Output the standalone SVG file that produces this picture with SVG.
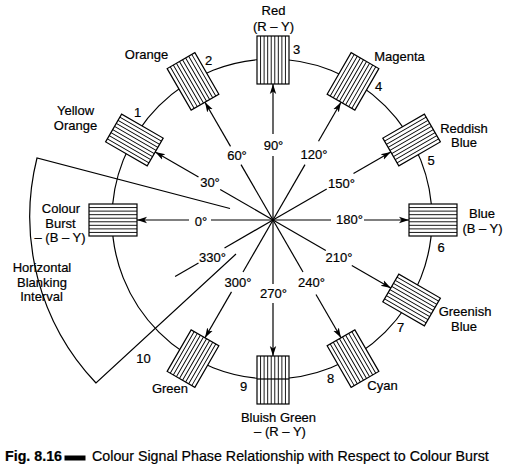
<svg xmlns="http://www.w3.org/2000/svg" xmlns:xlink="http://www.w3.org/1999/xlink" width="512" height="470" viewBox="0 0 512 470">
<style>
text{font-family:"Liberation Sans",Arial,sans-serif;font-size:13px;fill:#000;text-anchor:middle;stroke:#000;stroke-width:0.2}
.ln{stroke:#000;stroke-width:1.2;fill:none}
.ar{stroke:#000;stroke-width:1.2;fill:none;marker-end:url(#ah)}
.cap{font-size:14.25px;text-anchor:start}
</style>
<defs>
<marker id="ah" markerUnits="userSpaceOnUse" markerWidth="10" markerHeight="8" viewBox="0 0 10 8" refX="10" refY="4" orient="auto">
<path d="M0,0.8 L10,4 L0,7.2 L2.5,4 z" fill="#000"/>
</marker>
<g id="box">
<rect x="-24" y="-16" width="48" height="32" fill="#fff" stroke="#000" stroke-width="1.2"/>
<path d="M-24,-12.44H24M-24,-8.89H24M-24,-5.33H24M-24,-1.78H24M-24,1.78H24M-24,5.33H24M-24,8.89H24M-24,12.44H24" stroke="#000" stroke-width="0.9"/>
</g>
</defs>
<rect width="512" height="470" fill="#fff"/>
<circle cx="272" cy="219" r="160" class="ln"/>
<g id="connectors">
<path class="ln" d="M273,220 L211,220"/><path class="ar" d="M189,220 L137,220"/>
<path class="ln" d="M273,220 L220.2,189.5"/><path class="ar" d="M198.5,177 L155.2,152"/>
<path class="ln" d="M273,220 L241,164.6"/><path class="ar" d="M230.5,146.4 L205,102.2"/>
<path class="ln" d="M273,220 L273,156"/><path class="ar" d="M273,134 L273,84"/>
<path class="ln" d="M273,220 L305,164.6"/><path class="ar" d="M318.5,141.2 L341,102.2"/>
<path class="ln" d="M273,220 L326.7,189"/><path class="ar" d="M353.5,173.5 L390.8,152"/>
<path class="ln" d="M273,220 L331,220"/><path class="ar" d="M364,220 L409,220"/>
<path class="ln" d="M273,220 L325.8,250.5"/><path class="ar" d="M351.8,265.5 L390.8,288"/>
<path class="ln" d="M273,220 L303,272"/><path class="ar" d="M316,294.5 L341,337.8"/>
<path class="ln" d="M273,220 L273,284"/><path class="ar" d="M273,303 L273,356"/>
<path class="ln" d="M273,220 L243,272"/><path class="ar" d="M231.5,291.9 L205,337.8"/>
<path class="ln" d="M273,220 L224.5,248"/><path class="ln" d="M198.5,263 L175.1,276.5"/>
<path class="ln" d="M230,208.5 L37,158 A242,242 0 0,0 96,383 L236,254"/>
</g>
<g id="angle-labels">
<text x="201" y="225.5">0°</text>
<text x="210" y="186.5">30°</text>
<text x="237" y="159.5">60°</text>
<text x="273.5" y="149.5">90°</text>
<text x="314" y="158.5">120°</text>
<text x="341.5" y="187.5">150°</text>
<text x="349.5" y="223.5">180°</text>
<text x="339" y="261.5">210°</text>
<text x="311.5" y="286.5">240°</text>
<text x="273.5" y="297.5">270°</text>
<text x="238" y="286.5">300°</text>
<text x="212.5" y="261.5">330°</text>
</g>
<g id="burst">
<use xlink:href="#box" transform="translate(113,220)"/>
<text x="61" y="212.5">Colour</text>
<text x="60.5" y="227.5">Burst</text>
<text x="60" y="242">– (B – Y)</text>
</g>
<g id="n1">
<use xlink:href="#box" transform="translate(134.4,140) rotate(30)"/>
<text x="137.5" y="117">1</text>
<text x="75.5" y="115">Yellow</text>
<text x="75.5" y="130">Orange</text>
</g>
<g id="n2">
<use xlink:href="#box" transform="translate(193,81.4) rotate(60)"/>
<text x="208.5" y="65">2</text>
<text x="146.5" y="58.5">Orange</text>
</g>
<g id="n3">
<use xlink:href="#box" transform="translate(273,60) rotate(90)"/>
<text x="296.5" y="53.5">3</text>
<text x="273.5" y="14.7">Red</text>
<text x="273.5" y="30.5">(R – Y)</text>
</g>
<g id="n4">
<use xlink:href="#box" transform="translate(353,81.4) rotate(120)"/>
<text x="378.5" y="91">4</text>
<text x="399.5" y="61">Magenta</text>
</g>
<g id="n5">
<use xlink:href="#box" transform="translate(411.6,140) rotate(150)"/>
<text x="431" y="164.5">5</text>
<text x="464" y="132.6">Reddish</text>
<text x="464" y="147">Blue</text>
</g>
<g id="n6">
<use xlink:href="#box" transform="translate(433,220) rotate(180)"/>
<text x="441" y="252">6</text>
<text x="482" y="218">Blue</text>
<text x="482.5" y="233">(B – Y)</text>
</g>
<g id="n7">
<use xlink:href="#box" transform="translate(411.6,300) rotate(210)"/>
<text x="400.5" y="332">7</text>
<text x="465" y="316">Greenish</text>
<text x="464" y="331">Blue</text>
</g>
<g id="n8">
<use xlink:href="#box" transform="translate(353,358.6) rotate(240)"/>
<text x="330.5" y="383">8</text>
<text x="382.5" y="390">Cyan</text>
</g>
<g id="n9">
<use xlink:href="#box" transform="translate(273,380) rotate(270)"/>
<path class="ln" d="M257,379 H289"/>
<text x="243.5" y="391">9</text>
<text x="278.5" y="421.5">Bluish Green</text>
<text x="280" y="436">– (R – Y)</text>
</g>
<g id="n10">
<use xlink:href="#box" transform="translate(193,358.6) rotate(300)"/>
<text x="143.5" y="363">10</text>
<text x="170" y="393">Green</text>
</g>
<g id="blanking">
<text x="42" y="272">Horizontal</text>
<text x="42" y="286.5">Blanking</text>
<text x="41.5" y="301">Interval</text>
</g>
<g id="caption">
<text class="cap" x="5" y="461" font-weight="bold" font-size="13.5">Fig. 8.16</text>
<rect x="64.5" y="455.5" width="21" height="5" fill="#000"/>
<text class="cap" x="92" y="461" stroke-width="0.35">Colour Signal Phase Relationship with Respect to Colour Burst</text>
</g>
</svg>
